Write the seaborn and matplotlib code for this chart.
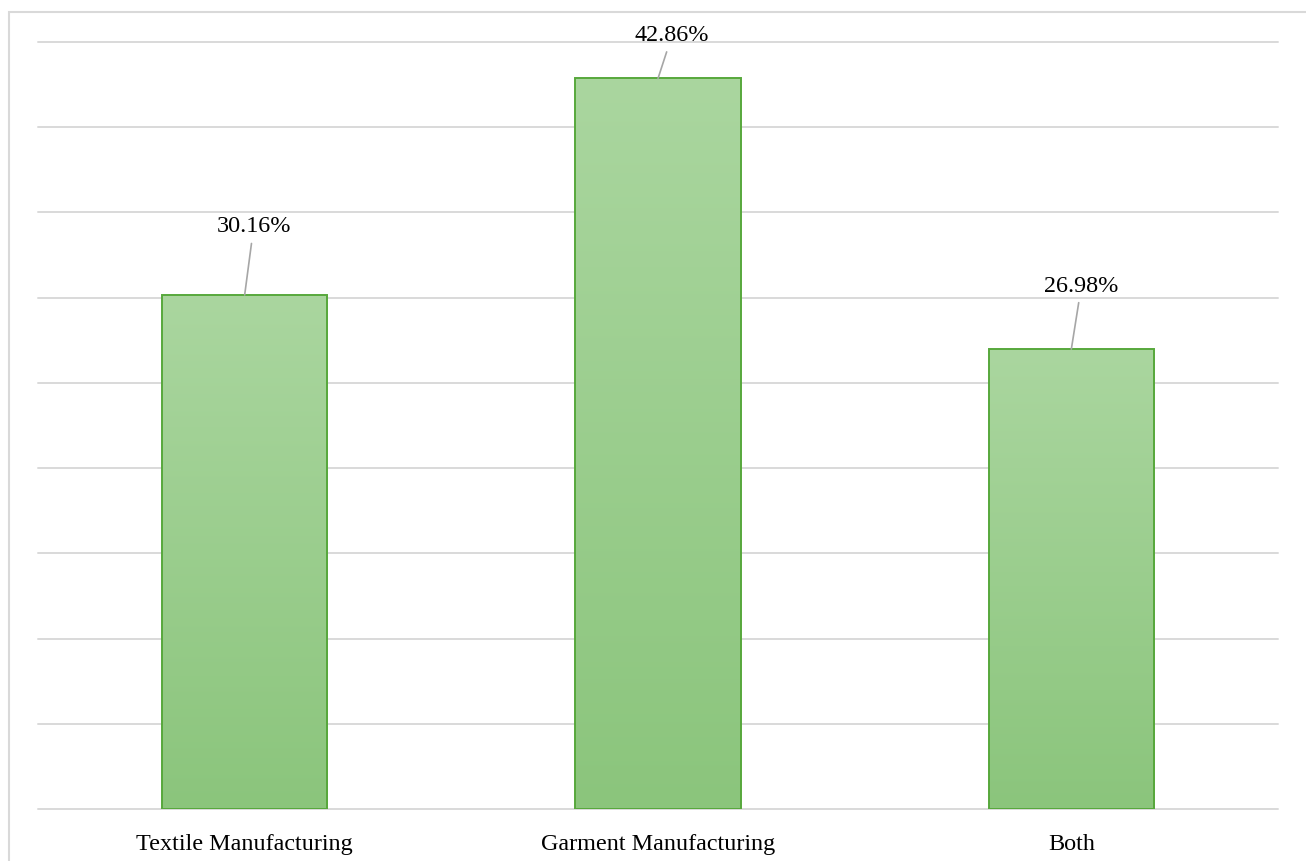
import numpy as np
import pandas as pd
import matplotlib
matplotlib.use("Agg")
import matplotlib.pyplot as plt
from matplotlib.patches import Rectangle
from matplotlib.colors import LinearSegmentedColormap
import seaborn as sns

categories = ["Textile Manufacturing", "Garment Manufacturing", "Both"]
shares = [30.16, 42.86, 26.98]
label_texts = ["30.16%", "42.86%", "26.98%"]

sns.set_theme(style="white")
plt.rcParams["font.family"] = ["Liberation Serif", "DejaVu Serif"]

W, H = 1306, 861
fig = plt.figure(figsize=(W / 100, H / 100), dpi=100)
ax = fig.add_axes([38 / W, 1 - 809 / H, (1278 - 38) / W, (809 - 42) / H])

df = pd.DataFrame({"category": categories, "share": shares})
sns.barplot(data=df, x="category", y="share", ax=ax, width=0.4,
            color="#9bcd8e", edgecolor="#57a83c", linewidth=1.4, zorder=3)

ax.set_ylim(0, 45)
ax.set_xlim(-0.5, len(categories) - 0.5)
ax.set_yticks(np.arange(0, 46, 5))
ax.set_yticklabels([])
ax.tick_params(axis="y", length=0)
ax.tick_params(axis="x", length=0, pad=18, labelsize=17.4, labelcolor="#000000")
ax.set_xlabel("")
ax.set_ylabel("")
ax.grid(axis="y", color="#d9d9d9", linewidth=1.4, zorder=0)
ax.grid(axis="x", visible=False)
for gl in ax.get_ygridlines():
    gl.set_clip_on(False)
for s in ax.spines.values():
    s.set_visible(False)

# vertical gradient fill inside each bar
grad_cmap = LinearSegmentedColormap.from_list("bar_grad", ["#8bc57c", "#aad69f"])
gradient = np.linspace(0, 1, 256).reshape(-1, 1)
for patch in ax.patches:
    x0, y0 = patch.get_x(), patch.get_y()
    w, h = patch.get_width(), patch.get_height()
    im = ax.imshow(gradient, cmap=grad_cmap, origin="lower", aspect="auto",
                   extent=[x0, x0 + w, y0, y0 + h], zorder=3.5)
    im.set_clip_path(patch)
    patch.set_facecolor("none")
    patch.set_zorder(4)

# value labels with leader lines
offsets = [(9, 68), (14, 43), (10, 63)]
for i, (val, txt) in enumerate(zip(shares, label_texts)):
    dx, dy = offsets[i]
    ax.annotate(txt, xy=(i, val), xytext=(dx, dy), textcoords="offset pixels",
                ha="center", va="center", fontsize=17.4, color="#000000",
                annotation_clip=False, zorder=6,
                arrowprops=dict(arrowstyle="-", color="#a6a6a6", lw=1.2,
                                shrinkA=2, shrinkB=0))

ax.set_xlim(-0.5, len(categories) - 0.5)

# chart area outline
fig.patches.append(Rectangle((9 / W, -0.05), 1.2, 1 - 12 / H + 0.05,
                             transform=fig.transFigure, fill=False,
                             edgecolor="#d9d9d9", linewidth=1.5))

fig.savefig("out.png", dpi=100)
